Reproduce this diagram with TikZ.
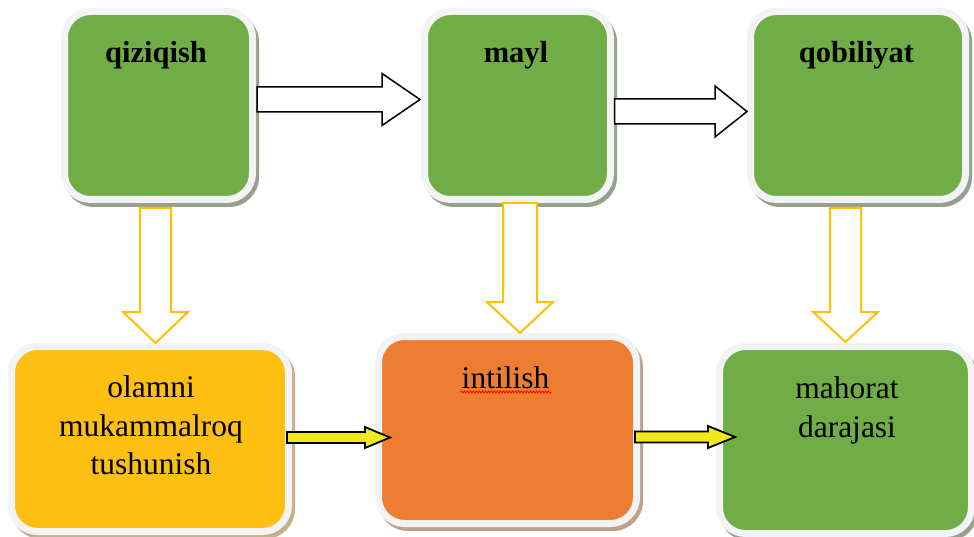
\documentclass[tikz,border=0pt]{standalone}
\usepackage{fontspec}
\setmainfont{Liberation Serif}
\usetikzlibrary{calc,backgrounds,decorations.pathmorphing}
\definecolor{grn}{HTML}{70AD47}
\definecolor{org}{HTML}{ED7D31}
\definecolor{gold}{HTML}{FCBF12}
\definecolor{frame}{HTML}{F2F3F5}
\definecolor{shgrn}{HTML}{96A08C}
\definecolor{shorg}{HTML}{BFA28C}
\definecolor{shgold}{HTML}{C4B184}
\definecolor{arrgold}{HTML}{FFC000}
\definecolor{arryel}{HTML}{F0E81C}
\tikzset{
  box/.style={draw=frame, line width=7pt, rounded corners=26pt, inner sep=0pt, outer sep=0pt},
  toptext/.style={font=\fontsize{30.5}{36}\selectfont\bfseries, anchor=base, inner sep=0pt},
  bodytext/.style={font=\fontsize{31.5}{38.5}\selectfont, align=center, inner sep=0pt},
  whitearrow/.style={draw=black, line width=1.5pt, fill=white, line join=miter},
  goldarrow/.style={draw=arrgold, line width=2pt, fill=white, line join=miter},
  yelarrow/.style={draw=black, line width=1.8pt, fill=arryel, line join=miter},
}
% #1 node name, #2 colour
\newcommand\boxshadow[2]{\fill[#2, rounded corners=30pt] ($(#1.north west)+(-0.5,0.5)$) rectangle ($(#1.south east)+(6.5,7.5)$);}
% horizontal block arrow: #1 start, #2 tip, #3 shaft half, #4 head half, #5 head length, #6 style
\newcommand\harrow[6]{\draw[#6] let \p1=(#1), \p2=(#2) in
  (\x1,\y1+#3pt) -- (\x2-#5pt,\y1+#3pt) -- (\x2-#5pt,\y1+#4pt) -- (\x2,\y1)
  -- (\x2-#5pt,\y1-#4pt) -- (\x2-#5pt,\y1-#3pt) -- (\x1,\y1-#3pt) -- cycle;}
% downward block arrow
\newcommand\varrow[6]{\draw[#6] let \p1=(#1), \p2=(#2) in
  (\x1-#3pt,\y1) -- (\x1-#3pt,\y2+#5pt) -- (\x1-#4pt,\y2+#5pt) -- (\x1,\y2)
  -- (\x1+#4pt,\y2+#5pt) -- (\x1+#3pt,\y2+#5pt) -- (\x1+#3pt,\y1) -- cycle;}
\begin{document}
\begin{tikzpicture}[x=1pt,y=-1pt]
\useasboundingbox (0,0) rectangle (974,537);
% boxes
\node[box, fill=grn, minimum width=188pt, minimum height=188pt] (q) at (158.5,105.5) {};
\node[box, fill=grn, minimum width=186pt, minimum height=188pt] (m) at (517.5,105.5) {};
\node[box, fill=grn, minimum width=215pt, minimum height=188pt] (b3) at (858,105.5) {};
\node[box, fill=gold, minimum width=277pt, minimum height=185pt] (b4) at (150,439) {};
\node[box, fill=org, minimum width=258pt, minimum height=187pt] (b5) at (507.5,430) {};
\node[box, fill=grn, minimum width=252pt, minimum height=187pt] (b6) at (845.5,440) {};
\begin{scope}[on background layer]
  \fill[white] (0,0) rectangle (974,537);
  \boxshadow{q}{shgrn}
  \boxshadow{m}{shgrn}
  \boxshadow{b3}{shgrn}
  \boxshadow{b4}{shgold}
  \boxshadow{b5}{shorg}
  \boxshadow{b6}{shgrn}
\end{scope}
% texts
\node[toptext] (tq) at (156,63) {qiziqish};
\node[toptext] (tm) at (516,63) {mayl};
\node[toptext] (tb) at (856.5,63) {qobiliyat};
\node[bodytext, anchor=north] (t4) at (151,375.5) {olamni\\mukammalroq\\tushunish};
\node[bodytext, anchor=base] (ti) at (505.5,388) {intilish};
\draw[red, line width=0.8pt, decorate, decoration={snake, amplitude=1pt, segment length=3pt}]
  ($(ti.base west)+(-1,4)$) -- ($(ti.base east)+(2,4)$);
\node[bodytext, anchor=north] (t6) at (847,376.5) {mahorat\\darajasi};
% arrow end points
\coordinate (a1s) at ($(q.east)+(4.5,-6)$);
\coordinate (a1e) at ($(m.west)+(-4.5,-6)$);
\coordinate (a2s) at ($(m.east)+(4,6)$);
\coordinate (a2e) at ($(b3.west)+(-3.5,6)$);
\coordinate (d1s) at ($(q.south)+(-3,8.5)$);
\coordinate (d1e) at ($(d1s |- b4.north)+(0,-3.5)$);
\coordinate (d2s) at ($(m.south)+(2.5,3.5)$);
\coordinate (d2e) at ($(d2s |- b5.north)+(0,-3.5)$);
\coordinate (d3s) at ($(b3.south)+(-12.5,8.5)$);
\coordinate (d3e) at ($(d3s |- b6.north)+(0,-4.5)$);
\coordinate (y1s) at ($(b4.east)+(-1.5,-1.5)$);
\coordinate (y1e) at ($(y1s -| b5.west)+(11.5,0)$);
\coordinate (y2s) at ($(b5.east)+(-1.5,7)$);
\coordinate (y2e) at ($(y2s -| b6.west)+(15.5,0)$);
% arrows
\harrow{a1s}{a1e}{12.5}{26}{38}{whitearrow}
\harrow{a2s}{a2e}{12.5}{25.5}{32}{whitearrow}
\varrow{d1s}{d1e}{15.5}{32.5}{31}{goldarrow}
\varrow{d2s}{d2e}{17}{33}{31}{goldarrow}
\varrow{d3s}{d3e}{15.5}{32.5}{30}{goldarrow}
\harrow{y1s}{y1e}{5.5}{10.5}{25}{yelarrow}
\harrow{y2s}{y2e}{5.5}{11}{27}{yelarrow}
\end{tikzpicture}
\end{document}
